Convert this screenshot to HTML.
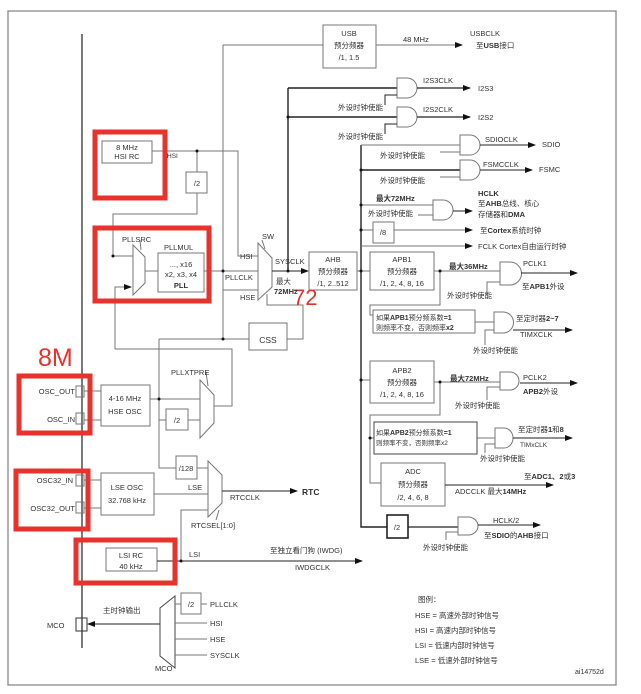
<!DOCTYPE html>
<html><head><meta charset="utf-8"><style>
html,body{margin:0;padding:0;background:#fff}
svg{display:block}
text{font-family:"Liberation Sans","Noto Sans CJK SC",sans-serif;fill:#333;font-size:7.5px}
.b{font-weight:bold}
</style></head><body>
<svg width="641" height="694" viewBox="0 0 641 694" xmlns="http://www.w3.org/2000/svg">
<defs><marker id="a" markerWidth="8" markerHeight="8" refX="7" refY="4" orient="auto" markerUnits="userSpaceOnUse"><path d="M0,1 L8,4 L0,7Z" fill="#111"/></marker></defs>
<g fill="none" stroke="#777" stroke-width="1">
<path d="M8,685 V11 H616 V685 Z" stroke="#888" stroke-width="1.3"/>
<line x1="82" y1="34" x2="82" y2="648" stroke="#333" stroke-width="1.3"/>
<!-- HSI -->
<rect x="102" y="141" width="50" height="22"/>
<path d="M152,151 H238 V256 H258"/>
<path d="M197,151 V172"/><rect x="186" y="172" width="21" height="21"/>
<path d="M197,193 V214 H113 V256 H133"/>
<!-- PLL -->
<path d="M133,245 L145,257 V283 L133,295 Z"/>
<path d="M140,240 L141,250"/>
<rect x="158" y="253" width="46" height="39"/>
<path d="M145,271 H158"/>
<path d="M204,271 H258"/>
<path d="M115,349 V287 H131" marker-end="url(#a)"/>
<path d="M223,45 V339"/>
<path d="M223,290 H258"/>
<!-- SW -->
<path d="M258,243 L272,258 V287 L258,300 Z"/>
<path d="M262,240 L265,249"/>
<path d="M272,271 H308" stroke="#222" marker-end="url(#a)"/>
<path d="M288,88 V271" stroke="#222" stroke-width="1.4"/>
<path d="M288,88 H397 M288,117 H397" stroke="#222" stroke-width="1.4"/>
<!-- CSS -->
<rect x="249" y="323" width="38" height="27"/>
<path d="M159,339 H249"/>
<path d="M287,339 H303 V305 H267 V294"/>
<!-- AHB -->
<rect x="309" y="252" width="48" height="38"/>
<path d="M357,271 H370"/>
<!-- USB -->
<rect x="323" y="25" width="53" height="43"/>
<path d="M223,45 H323"/>
<path d="M376,45 H462" marker-end="url(#a)"/>
<!-- I2S gates -->
<path d="M397,78 H407 A10,10 0 0 1 407,98 H397 Z"/>
<path d="M417,88 H470" stroke="#222" stroke-width="1.3" marker-end="url(#a)"/>
<path d="M385,105 V95 H397" stroke="#222"/>
<path d="M397,107 H407 A10,10 0 0 1 407,127 H397 Z"/>
<path d="M417,117 H470" stroke="#222" stroke-width="1.3" marker-end="url(#a)"/>
<path d="M385,134 V124 H397" stroke="#222"/>
<!-- main vertical -->
<path d="M361,145 V527 H387" stroke="#222" stroke-width="1.4"/>
<path d="M361,145 H460"/>
<path d="M460,135 H470 A10,10 0 0 1 470,155 H460 Z"/>
<path d="M480,145 H535" stroke="#222" marker-end="url(#a)"/>
<path d="M440,152 H460"/>
<path d="M361,170 H460" stroke="#222" stroke-width="1.4"/>
<path d="M460,160 H470 A10,10 0 0 1 470,180 H460 Z"/>
<path d="M480,170 H532" stroke="#222" marker-end="url(#a)"/>
<path d="M440,177 H460"/>
<path d="M361,205 H433"/>
<path d="M433,200 H443 A10,10 0 0 1 443,220 H433 Z"/>
<path d="M453,211 H472" stroke="#222" marker-end="url(#a)"/>
<path d="M418,215 H433"/>
<path d="M361,230 H373"/><rect x="373" y="222" width="21" height="21"/>
<path d="M394,230 H472" marker-end="url(#a)"/>
<path d="M361,246 H472" marker-end="url(#a)"/>
<!-- APB1 -->
<rect x="370" y="252" width="64" height="38"/>
<path d="M434,271 H500"/>
<path d="M500,262 H510 A11,11 0 0 1 510,285 H500 Z"/>
<path d="M521,273 H577" stroke="#222" marker-end="url(#a)"/>
<path d="M487,295 V282 H500"/>
<path d="M440,271 V305 H370 V315 H373"/>
<rect x="373" y="310" width="102" height="23"/>
<path d="M475,322 H494"/>
<path d="M494,312 H503 A10,10 0 0 1 503,333 H494 Z"/>
<path d="M513,330 H572" stroke="#222" marker-end="url(#a)"/>
<path d="M485,345 V330 H494"/>
<!-- APB2 -->
<path d="M361,380 H370"/>
<rect x="370" y="361" width="64" height="42"/>
<path d="M434,382 H500"/>
<path d="M500,372 H510 A9,9 0 0 1 510,390 H500 Z"/>
<path d="M520,383 H577" stroke="#222" marker-end="url(#a)"/>
<path d="M487,400 V387 H500"/>
<path d="M440,382 V415 H370 V483 H381"/>
<path d="M370,438 H374"/>
<rect x="374" y="422" width="103" height="32" stroke="#444"/>
<path d="M477,438 H495"/>
<path d="M495,428 H504 A9,10 0 0 1 504,448 H495 Z"/>
<path d="M513,438 H572" stroke="#222" marker-end="url(#a)"/>
<path d="M485,453 V444 H495"/>
<rect x="381" y="463" width="64" height="43"/>
<path d="M445,485 H553" stroke="#222" marker-end="url(#a)"/>
<rect x="387" y="515" width="21" height="23" stroke="#222" stroke-width="1.6"/>
<path d="M408,527 H458" stroke="#222" stroke-width="1.3"/>
<path d="M458,517 H468 A10,9 0 0 1 468,535 H458 Z"/>
<path d="M478,525 H540" stroke="#222" marker-end="url(#a)"/>
<path d="M446,540 V532 H458"/>
<!-- HSE OSC -->
<rect x="76" y="386" width="8" height="11"/><rect x="76" y="413" width="8" height="11"/>
<rect x="101" y="385" width="49" height="41"/>
<path d="M84,391 H101 M84,420 H101"/>
<path d="M150,399 H200"/>
<path d="M159,339 V468 H176"/>
<path d="M159,420 H166"/><rect x="166" y="409" width="22" height="21"/>
<path d="M188,420 H200"/>
<path d="M200,380 L214,395 V423 L200,438 Z"/>
<path d="M206,372 L208,386"/>
<path d="M214,406 H232 V349 H115"/>
<!-- LSE -->
<rect x="176" y="456" width="21" height="23"/>
<path d="M197,468 H208"/>
<rect x="76" y="475" width="8" height="11"/><rect x="76" y="502" width="8" height="11"/>
<rect x="101" y="473" width="53" height="42"/>
<path d="M84,480 H101 M84,508 H101"/>
<path d="M154,494 H208"/>
<path d="M208,461 L222,475 V503 L208,517 Z"/>
<path d="M216,520 L219,510"/>
<path d="M222,491 H297" stroke="#222" marker-end="url(#a)"/>
<!-- LSI -->
<rect x="106" y="548" width="51" height="23"/>
<path d="M157,561 H362" stroke="#222" marker-end="url(#a)"/>
<path d="M181,561 V510 H208"/>
<!-- MCO -->
<rect x="76" y="618" width="11" height="13" stroke="#333"/>
<path d="M160,624 H88" stroke="#222" marker-end="url(#a)"/>
<path d="M175,596 L160,608 V656 L175,668 Z" stroke="#444"/>
<rect x="181" y="593" width="20" height="21"/>
<path d="M175,604 H181 M201,604 H207 M175,623 H207 M175,639 H207 M175,655 H207"/>
</g>
<g fill="#111">
<circle cx="197" cy="151" r="1.5"/><circle cx="223" cy="271" r="1.5"/><circle cx="288" cy="117" r="1.5"/><circle cx="288" cy="271" r="1.5"/>
<circle cx="223" cy="339" r="1.5"/><circle cx="159" cy="399" r="1.5"/><circle cx="181" cy="561" r="1.5"/><circle cx="113" cy="256" r="1.5"/>
<circle cx="361" cy="170" r="1.5"/><circle cx="361" cy="205" r="1.5"/><circle cx="361" cy="230" r="1.5"/><circle cx="361" cy="271" r="1.5"/>
<circle cx="440" cy="271" r="1.5"/><circle cx="361" cy="380" r="1.5"/><circle cx="440" cy="382" r="1.5"/><circle cx="370" cy="438" r="1.5"/>
</g>
<!-- red boxes -->
<g fill="none" stroke="#e8322c" stroke-width="5">
<rect x="95" y="132" width="70" height="66"/>
<rect x="95" y="228" width="114" height="73"/>
<rect x="19" y="376" width="71" height="57"/>
<rect x="16" y="471" width="72" height="58"/>
<rect x="76" y="540" width="99" height="43"/>
</g>
<text x="38" y="366" style="font-size:25px;fill:#e8322c">8M</text>
<text x="293" y="305" style="font-size:22px;fill:#e8322c">72</text>
<g>
<text x="127" y="150" text-anchor="middle">8 MHz</text><text x="127" y="159" text-anchor="middle">HSI RC</text>
<text x="167" y="158" style="font-size:6.5px">HSI</text>
<text x="197" y="186" text-anchor="middle">/2</text>
<text x="122" y="242">PLLSRC</text><text x="164" y="250">PLLMUL</text>
<text x="181" y="267" text-anchor="middle">..., x16</text><text x="181" y="277" text-anchor="middle">x2, x3, x4</text><text x="181" y="288" text-anchor="middle" class="b">PLL</text>
<text x="225" y="280">PLLCLK</text><text x="240" y="259">HSI</text><text x="240" y="300">HSE</text>
<text x="262" y="239">SW</text><text x="275" y="264">SYSCLK</text>
<text x="276" y="284">最大</text><text x="274" y="294" class="b">72MHz</text>
<text x="268" y="343" style="font-size:8.5px" text-anchor="middle">CSS</text>
<text x="333" y="262" text-anchor="middle">AHB</text><text x="333" y="274" text-anchor="middle">预分频器</text><text x="333" y="286" text-anchor="middle">/1, 2..512</text>
<text x="349" y="36" text-anchor="middle">USB</text><text x="349" y="48" text-anchor="middle">预分频器</text><text x="349" y="60" text-anchor="middle">/1, 1.5</text>
<text x="403" y="42">48 MHz</text><text x="470" y="36">USBCLK</text><text x="476" y="48">至<tspan class="b">USB</tspan>接口</text>
<text x="423" y="83">I2S3CLK</text><text x="478" y="91">I2S3</text>
<text x="338" y="110">外设时钟使能</text>
<text x="423" y="112">I2S2CLK</text><text x="478" y="120">I2S2</text>
<text x="338" y="139">外设时钟使能</text>
<text x="485" y="142">SDIOCLK</text><text x="542" y="147">SDIO</text><text x="380" y="158">外设时钟使能</text>
<text x="483" y="167">FSMCCLK</text><text x="539" y="172">FSMC</text><text x="380" y="183">外设时钟使能</text>
<text x="376" y="201" class="b">最大72MHz</text><text x="368" y="216">外设时钟使能</text>
<text x="478" y="196" class="b">HCLK</text><text x="478" y="206">至<tspan class="b">AHB</tspan>总线、核心</text><text x="478" y="217">存储器和<tspan class="b">DMA</tspan></text>
<text x="383" y="235" text-anchor="middle">/8</text><text x="480" y="233">至<tspan class="b">Cortex</tspan>系统时钟</text>
<text x="478" y="249">FCLK Cortex自由运行时钟</text>
<text x="402" y="262" text-anchor="middle">APB1</text><text x="402" y="274" text-anchor="middle">预分频器</text><text x="402" y="286" text-anchor="middle">/1, 2, 4, 8, 16</text>
<text x="449" y="269" class="b">最大36MHz</text><text x="523" y="266">PCLK1</text><text x="522" y="289">至<tspan class="b">APB1</tspan>外设</text>
<text x="447" y="298">外设时钟使能</text>
<text x="376" y="320" style="font-size:7px">如果<tspan class="b">APB1</tspan>预分频系数<tspan class="b">=1</tspan></text>
<text x="376" y="330" style="font-size:7px">则频率不变，否则频率<tspan class="b">x2</tspan></text>
<text x="516" y="321">至定时器<tspan class="b">2~7</tspan></text><text x="520" y="337">TIMXCLK</text>
<text x="473" y="353">外设时钟使能</text>
<text x="402" y="373" text-anchor="middle">APB2</text><text x="402" y="385" text-anchor="middle">预分频器</text><text x="402" y="397" text-anchor="middle">/1, 2, 4, 8, 16</text>
<text x="450" y="381" class="b">最大72MHz</text><text x="523" y="380">PCLK2</text><text x="523" y="394" class="b">APB2<tspan style="font-weight:normal">外设</tspan></text>
<text x="455" y="408">外设时钟使能</text>
<text x="376" y="435" style="font-size:7px">如果<tspan class="b">APB2</tspan>预分频系数<tspan class="b">=1</tspan></text>
<text x="376" y="445" style="font-size:6.5px">则频率不变，否则频率x2</text>
<text x="518" y="432">至定时器<tspan class="b">1</tspan>和<tspan class="b">8</tspan></text><text x="520" y="447" style="font-size:6.5px">TIMxCLK</text>
<text x="480" y="461">外设时钟使能</text>
<text x="413" y="474" text-anchor="middle">ADC</text><text x="413" y="487" text-anchor="middle">预分频器</text><text x="413" y="500" text-anchor="middle">/2, 4, 6, 8</text>
<text x="524" y="479">至<tspan class="b">ADC1、2</tspan>或<tspan class="b">3</tspan></text><text x="455" y="494">ADCCLK 最大<tspan class="b">14MHz</tspan></text>
<text x="397" y="530" text-anchor="middle">/2</text>
<text x="493" y="523">HCLK/2</text><text x="484" y="538">至<tspan class="b">SDIO</tspan>的<tspan class="b">AHB</tspan>接口</text>
<text x="423" y="550">外设时钟使能</text>
<text x="75" y="394" text-anchor="end">OSC_OUT</text><text x="75" y="422" text-anchor="end">OSC_IN</text>
<text x="125" y="401" text-anchor="middle">4-16 MHz</text><text x="125" y="414" text-anchor="middle">HSE OSC</text>
<text x="177" y="423" text-anchor="middle">/2</text><text x="171" y="375">PLLXTPRE</text>
<text x="186" y="471" text-anchor="middle">/128</text>
<text x="73" y="483" text-anchor="end">OSC32_IN</text><text x="75" y="511" text-anchor="end">OSC32_OUT</text>
<text x="127" y="490" text-anchor="middle">LSE OSC</text><text x="127" y="503" text-anchor="middle">32.768 kHz</text>
<text x="188" y="490">LSE</text><text x="230" y="500">RTCCLK</text>
<text x="302" y="495" class="b" style="font-size:8.5px">RTC</text>
<text x="191" y="528">RTCSEL[1:0]</text>
<text x="131" y="558" text-anchor="middle">LSI RC</text><text x="131" y="569" text-anchor="middle">40 kHz</text>
<text x="189" y="557">LSI</text>
<text x="270" y="553">至独立看门狗 (IWDG)</text><text x="295" y="570">IWDGCLK</text>
<text x="103" y="613">主时钟输出</text><text x="47" y="628">MCO</text>
<text x="191" y="607" text-anchor="middle">/2</text>
<text x="210" y="607">PLLCLK</text><text x="210" y="626">HSI</text><text x="210" y="642">HSE</text><text x="210" y="658">SYSCLK</text>
<text x="155" y="671">MCO</text>
<text x="418" y="602">图例：</text>
<text x="415" y="618">HSE = 高速外部时钟信号</text><text x="415" y="633">HSI = 高速内部时钟信号</text>
<text x="415" y="648">LSI = 低速内部时钟信号</text><text x="415" y="663">LSE = 低速外部时钟信号</text>
<text x="575" y="674" style="font-size:7px">ai14752d</text>
</g>
</svg>
</body></html>
